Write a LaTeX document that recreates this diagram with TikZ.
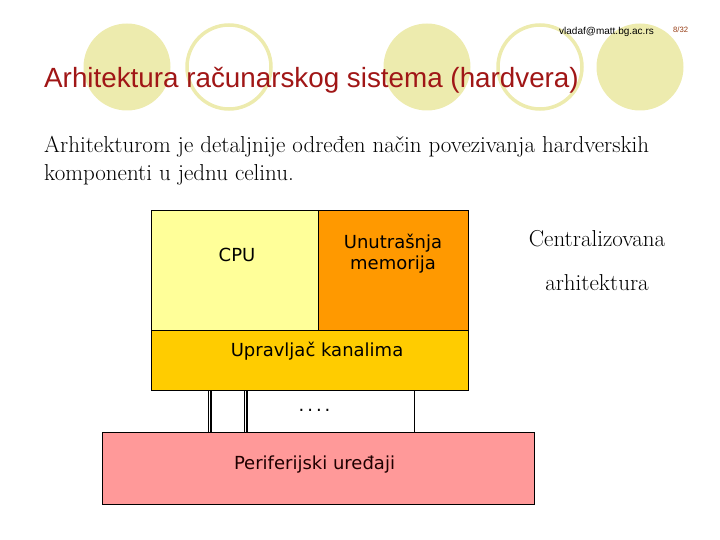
\documentclass[tikz,border=0pt]{standalone}
\usepackage{fontspec}
\setmainfont{Latin Modern Roman}
\newfontfamily\arialf{Liberation Sans}
\newfontfamily\verdf{DejaVu Sans}
\definecolor{circ}{RGB}{237,235,174}
\definecolor{titlered}{RGB}{160,22,22}
\definecolor{cpuY}{RGB}{255,255,153}
\definecolor{memO}{RGB}{255,153,0}
\definecolor{chanY}{RGB}{255,204,0}
\definecolor{perR}{RGB}{255,153,153}
\definecolor{pgnum}{RGB}{150,60,20}
\begin{document}
\begin{tikzpicture}[x=1pt,y=-1pt,
  blk/.style={draw=black,line width=1pt,inner sep=0pt,anchor=north west},
  lbl/.style={font=\verdf\fontsize{18}{22}\selectfont,inner sep=0pt,align=center},
  dbl/.style={double=white,double distance=1.4pt,line width=1.3pt,draw=black},
  sgl/.style={draw=black,line width=1pt},
  body/.style={font=\fontsize{23}{28}\selectfont,inner sep=0pt,anchor=base west}]
\useasboundingbox (0,0) rectangle (720,540);
% decorative circles
\fill[circ] (127,67) circle (43.5);
\draw[circ,line width=3.5pt] (229,67) circle (42);
\fill[circ] (427,67) circle (43.5);
\draw[circ,line width=3.5pt] (540,67) circle (42);
\fill[circ] (640,67) circle (43.5);
% header
\node[font=\arialf\fontsize{10}{12}\selectfont,inner sep=0pt,anchor=base west] (mail) at (559,35) {vladaf@matt.bg.ac.rs};
\node[font=\arialf\fontsize{7.7}{9}\selectfont,text=pgnum,inner sep=0pt,anchor=base west] (pg) at (673,33) {8/32};
\node[font=\arialf\fontsize{27.8}{32}\selectfont,text=titlered,inner sep=0pt,anchor=base west] (title) at (44,88) {Arhitektura računarskog sistema (hardvera)};
% body text
\node[body] (l1) at (44,153) {Arhitekturom je detaljnije određen način povezivanja hardverskih};
\node[body] (l2) at (44,181) {komponenti u jednu celinu.};
% boxes
\node[blk,fill=cpuY,minimum width=167.5pt,minimum height=120pt] (cpu) at (150.5,210) {};
\node[blk,fill=memO,minimum width=150pt,minimum height=120pt] (mem) at (318,210) {};
\node[blk,fill=chanY,minimum width=317.5pt,minimum height=60pt] (chan) at (150.5,330) {};
\node[blk,fill=perR,minimum width=432pt,minimum height=72pt] (per) at (102,432) {};
\node[lbl] (cpuT) at (237,255) {CPU};
\node[lbl] (memT) at (393,254) {Unutrašnja\\[-1pt]memorija};
\node[lbl] (chanT) at (317,351) {Upravljač kanalima};
\node[lbl,text={rgb,255:red,30;green,0;blue,0}] (perT) at (314.5,465) {Periferijski uređaji};
\node[lbl] (dots) at (314.5,410) {.\kern3pt.\kern3pt.\kern3pt.};
% connectors
\coordinate (c1) at (209.7,0);
\coordinate (c2) at (245.5,0);
\coordinate (c3) at (414,0);
\draw[dbl] (chan.south -| c1) -- (per.north -| c1);
\draw[dbl] (chan.south -| c2) -- (per.north -| c2);
\draw[sgl] (chan.south -| c3) -- (per.north -| c3);
% right labels
\node[font=\fontsize{23}{28}\selectfont,inner sep=0pt,anchor=base] (cen) at (597,246) {Centralizovana};
\node[font=\fontsize{23}{28}\selectfont,inner sep=0pt,anchor=base] (arh) at (597,290) {arhitektura};
\end{tikzpicture}
\end{document}
